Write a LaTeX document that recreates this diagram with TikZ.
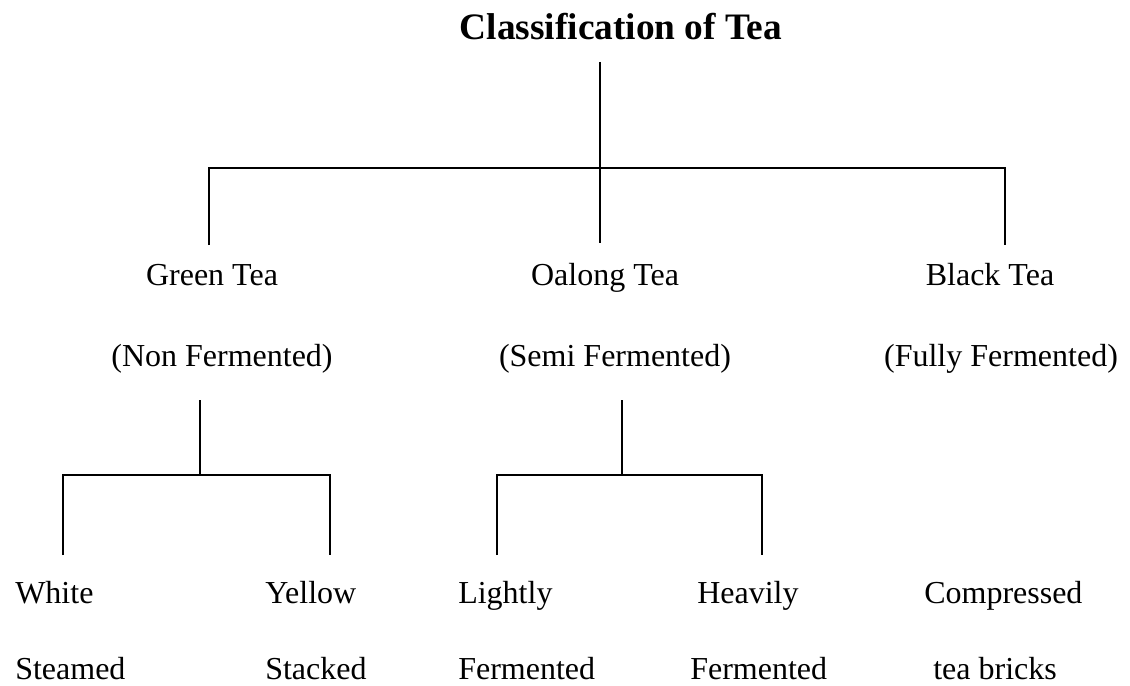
\documentclass[tikz,border=0pt]{standalone}
\usepackage{fontspec}
\setmainfont{Liberation Serif}
\usetikzlibrary{positioning}

\begin{document}
\begin{tikzpicture}[x=0.75pt, y=-0.75pt, font=\fontsize{24}{28}\selectfont,
    label/.style={inner sep=0pt, anchor=base},
    leaf/.style={inner sep=0pt, anchor=base west},
    branch/.style={line width=1.3pt}]
    \useasboundingbox (0,0) rectangle (1130,685);

    \node[label, font=\fontsize{28}{32}\selectfont\bfseries] (title) at (621,40) {Classification of Tea};

    \node[label] (green) at (212,285) {Green Tea};
    \node[label] (oalong) at (605,285) {Oalong Tea};
    \node[label] (black) at (990,285) {Black Tea};
    \node[label] (greensub) at (222,366) {(Non Fermented)};
    \node[label] (oalongsub) at (615,366) {(Semi Fermented)};
    \node[label] (blacksub) at (1001,366) {(Fully Fermented)};

    \node[leaf] (white) at (15,603) {White};
    \node[leaf] (yellow) at (265,603) {Yellow};
    \node[leaf] (lightly) at (458,603) {Lightly};
    \node[leaf] (heavily) at (697,603) {Heavily};
    \node[leaf] (compressed) at (924,603) {Compressed};
    \node[leaf] (steamed) at (15,679) {Steamed};
    \node[leaf] (stacked) at (265,679) {Stacked};
    \node[leaf] (lightfer) at (458,679) {Fermented};
    \node[leaf] (heavyfer) at (690,679) {Fermented};
    \node[leaf] (bricks) at (933,679) {tea bricks};

    % joints of the tree
    \coordinate (root) at (600,62);
    \coordinate (rootj) at (600,168);
    \coordinate (greenj) at (200,475);
    \coordinate (oalongj) at (622,475);

    \draw[branch] (root) -- (rootj);
    \draw[branch] (209,245) -- (209,168) -- (1005,168) -- (1005,245);
    \draw[branch] (rootj) -- (600,243);

    \draw[branch] (200,400) -- (greenj);
    \draw[branch] (63,555) -- (63,475) -- (330,475) -- (330,555);
    \draw[branch] (622,400) -- (oalongj);
    \draw[branch] (497,555) -- (497,475) -- (762,475) -- (762,555);
\end{tikzpicture}
\end{document}
